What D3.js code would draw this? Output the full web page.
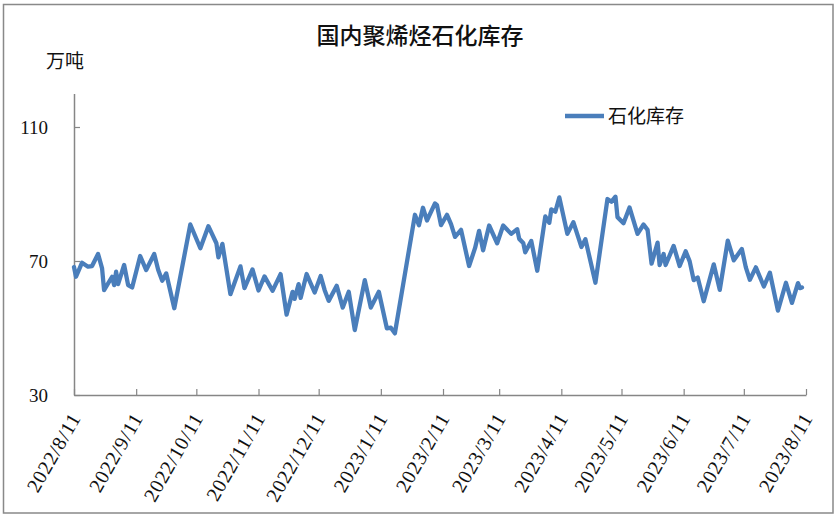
<!DOCTYPE html>
<html>
<head>
<meta charset="utf-8">
<script src="https://cdn.jsdelivr.net/npm/d3@7"></script>
<style>
  body { margin: 0; background: #fff; }
</style>
</head>
<body>
<div id="chart"></div>
<script>
const dates = [
  "2022-08-11","2022-08-12","2022-08-15","2022-08-18","2022-08-20","2022-08-23","2022-08-25","2022-08-26",
  "2022-08-30","2022-08-31","2022-09-01","2022-09-02","2022-09-05","2022-09-07","2022-09-09","2022-09-13",
  "2022-09-16","2022-09-20","2022-09-22","2022-09-24","2022-09-26","2022-09-30","2022-10-08","2022-10-13",
  "2022-10-17","2022-10-21","2022-10-22","2022-10-24","2022-10-28","2022-11-02","2022-11-04","2022-11-08",
  "2022-11-11","2022-11-14","2022-11-18","2022-11-22","2022-11-25","2022-11-28","2022-11-29","2022-12-01",
  "2022-12-02","2022-12-05","2022-12-09","2022-12-12","2022-12-14","2022-12-16","2022-12-20","2022-12-23",
  "2022-12-26","2022-12-29","2023-01-03","2023-01-06","2023-01-10","2023-01-14","2023-01-16","2023-01-18",
  "2023-01-28","2023-01-30","2023-02-01","2023-02-03","2023-02-07","2023-02-08","2023-02-10","2023-02-13",
  "2023-02-15","2023-02-17","2023-02-20","2023-02-24","2023-02-27","2023-03-01","2023-03-03","2023-03-06",
  "2023-03-10","2023-03-13","2023-03-17","2023-03-20","2023-03-21","2023-03-23","2023-03-24","2023-03-27",
  "2023-03-30","2023-04-03","2023-04-05","2023-04-06","2023-04-08","2023-04-10","2023-04-14","2023-04-17",
  "2023-04-21","2023-04-23","2023-04-28","2023-05-04","2023-05-06","2023-05-08","2023-05-09","2023-05-12",
  "2023-05-15","2023-05-19","2023-05-22","2023-05-24","2023-05-26","2023-05-29","2023-05-30","2023-06-01",
  "2023-06-02","2023-06-06","2023-06-09","2023-06-12","2023-06-14","2023-06-16","2023-06-18","2023-06-21",
  "2023-06-26","2023-06-29","2023-07-03","2023-07-06","2023-07-10","2023-07-12","2023-07-14","2023-07-17",
  "2023-07-21","2023-07-24","2023-07-28","2023-08-01","2023-08-04","2023-08-07","2023-08-08","2023-08-09"
];
const stock = [
  68.2,65.3,69.5,68.3,68.5,72.1,67.8,61.3,
  65.3,62.8,66.8,63.1,68.8,62.8,62.1,71.5,
  67.3,72.1,67.3,64.1,66.3,55.9,80.9,73.8,
  80.4,75.3,71.1,75.1,60.1,68.4,61.9,67.5,
  61.2,65.4,61.1,66.1,54.0,60.8,58.7,63.1,
  59.0,66.1,60.6,65.5,61.3,58.1,62.6,56.1,
  60.8,49.4,64.3,56.1,60.8,49.9,50.1,48.4,
  83.8,80.7,85.9,82.1,87.2,86.7,80.7,83.8,
  81.0,77.2,79.3,68.5,73.9,79.0,73.2,80.6,
  75.3,80.6,78.1,79.5,76.6,75.4,72.6,76.0,
  67.1,83.3,81.4,85.4,84.7,89.0,78.1,81.6,
  74.2,76.5,63.5,88.5,87.7,89.2,83.1,81.3,
  86.0,78.1,80.9,79.3,69.2,75.5,68.8,72.1,
  68.8,74.5,68.5,72.9,69.9,64.3,65.1,58.0,
  69.0,61.4,76.1,70.2,73.6,68.1,64.4,68.1,
  62.4,66.5,55.2,63.5,57.5,63.4,61.9,62.1
];
const xTickLabels = ["2022/8/11","2022/9/11","2022/10/11","2022/11/11","2022/12/11","2023/1/11",
  "2023/2/11","2023/3/11","2023/4/11","2023/5/11","2023/6/11","2023/7/11","2023/8/11"];
const yTicks = [30, 70, 110];
const yDomain = [30, 120];
const seriesName = "石化库存";

const width = 838, height = 517;
const axisColor = "#868686";
const lineColor = "#4a7ebb";

const parseDate = d3.timeParse("%Y-%m-%d");
const parseTick = d3.timeParse("%Y/%m/%d");
const data = dates.map((d, i) => ({ date: parseDate(d), value: stock[i] }));
const tickDates = xTickLabels.map(parseTick);

const svg = d3.select("#chart")
  .append("svg")
  .attr("width", width)
  .attr("height", height)
  .style("background", "#fff");

// outer frame
svg.append("rect")
  .attr("x", 3.5).attr("y", 4.5)
  .attr("width", 829.5).attr("height", 508.5)
  .attr("fill", "none")
  .attr("stroke", "#898989")
  .attr("stroke-width", 1.5);

const x = d3.scaleTime()
  .domain([tickDates[0], tickDates[tickDates.length - 1]])
  .range([74, 806]);
const y = d3.scaleLinear().domain(yDomain).range([395, 93.5]);

// title + unit
svg.append("text")
  .attr("x", 420).attr("y", 44)
  .attr("text-anchor", "middle")
  .style("font-family", "'Noto Sans CJK SC', sans-serif")
  .style("font-size", "23px")
  .style("font-weight", 500)
  .attr("fill", "#111")
  .text("国内聚烯烃石化库存");

svg.append("text")
  .attr("x", 46).attr("y", 68)
  .style("font-family", "'Noto Sans CJK SC', sans-serif")
  .style("font-size", "19px")
  .attr("fill", "#111")
  .text("万吨");

// y axis
const gy = svg.append("g")
  .attr("transform", "translate(74,0)")
  .call(d3.axisLeft(y).tickValues(yTicks).tickSizeInner(-6).tickSizeOuter(0).tickPadding(26));
gy.select(".domain").attr("stroke", axisColor).attr("stroke-width", 1.5);
gy.selectAll(".tick line").attr("stroke", axisColor).attr("stroke-width", 1.2);
gy.selectAll(".tick text")
  .style("font-family", "'Liberation Serif', 'DejaVu Serif', serif")
  .style("font-size", "19px")
  .attr("fill", "#111");

// x axis
const gx = svg.append("g")
  .attr("transform", "translate(0,395)")
  .call(d3.axisBottom(x).tickValues(tickDates).tickSizeInner(-6).tickSizeOuter(0)
    .tickFormat((d, i) => xTickLabels[i]));
gx.select(".domain").attr("stroke", axisColor).attr("stroke-width", 1.5);
gx.selectAll(".tick line").attr("stroke", axisColor).attr("stroke-width", 1.2);
gx.selectAll(".tick text")
  .attr("x", 0).attr("y", 0).attr("dy", 0)
  .attr("text-anchor", "end")
  .attr("transform", "translate(7,23) rotate(-60)")
  .style("font-family", "'Liberation Serif', 'DejaVu Serif', serif")
  .style("font-size", "20px")
  .style("letter-spacing", "0.8px")
  .attr("fill", "#111");

// series line
const line = d3.line()
  .x(d => x(d.date))
  .y(d => y(d.value));

svg.append("path")
  .datum(data)
  .attr("d", line)
  .attr("fill", "none")
  .attr("stroke", lineColor)
  .attr("stroke-width", 4.3)
  .attr("stroke-linejoin", "round")
  .attr("stroke-linecap", "round");

// legend
const legend = svg.append("g").attr("transform", "translate(565,116)");
legend.append("line")
  .attr("x1", 0).attr("x2", 39)
  .attr("stroke", lineColor)
  .attr("stroke-width", 4.3);
legend.append("text")
  .attr("x", 43).attr("y", 7)
  .style("font-family", "'Noto Sans CJK SC', sans-serif")
  .style("font-size", "19px")
  .attr("fill", "#111")
  .text(seriesName);
</script>
</body>
</html>
